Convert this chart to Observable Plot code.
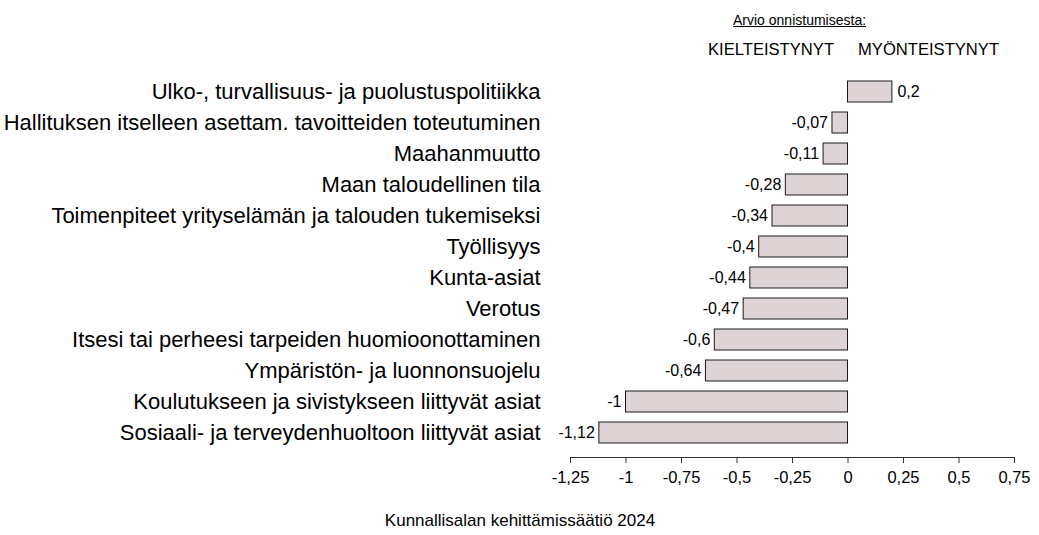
<!DOCTYPE html>
<html><head><meta charset="utf-8">
<script src="https://cdn.jsdelivr.net/npm/d3@7"></script>
<script src="https://cdn.jsdelivr.net/npm/@observablehq/plot@0.6"></script>
<style>
body{margin:0;background:#fff;font-family:"Liberation Sans",Arial,sans-serif;}
#wrap{position:relative;width:1039px;height:535px;}
.ann{position:absolute;color:#000;white-space:nowrap;line-height:1.15;}
</style></head>
<body><div id="wrap">
<div class="ann" style="left:733px;top:12px;text-decoration:underline;font-size:14px;">Arvio onnistumisesta:</div>
<div class="ann" style="left:708px;top:40px;font-size:16.6px;">KIELTEISTYNYT</div>
<div class="ann" style="left:858px;top:40px;font-size:16.6px;">MYÖNTEISTYNYT</div>
<div class="ann" style="left:0;width:1040px;top:511px;text-align:center;font-size:17px;">Kunnallisalan kehittämissäätiö 2024</div>
</div>
<script>
const categories = [
  "Ulko-, turvallisuus- ja puolustuspolitiikka",
  "Hallituksen itselleen asettam. tavoitteiden toteutuminen",
  "Maahanmuutto",
  "Maan taloudellinen tila",
  "Toimenpiteet yrityselämän ja talouden tukemiseksi",
  "Työllisyys",
  "Kunta-asiat",
  "Verotus",
  "Itsesi tai perheesi tarpeiden huomioonottaminen",
  "Ympäristön- ja luonnonsuojelu",
  "Koulutukseen ja sivistykseen liittyvät asiat",
  "Sosiaali- ja terveydenhuoltoon liittyvät asiat"
];
const values = [0.2, -0.07, -0.11, -0.28, -0.34, -0.4, -0.44, -0.47, -0.6, -0.64, -1, -1.12];
const xTicks = [-1.25, -1, -0.75, -0.5, -0.25, 0, 0.25, 0.5, 0.75];

const fmt = d => String(d).replace(".", ",");
const data = categories.map((c, i) => ({label: c, value: values[i]}));

const chart = Plot.plot({
  width: 1039,
  height: 535,
  marginTop: 67,
  marginBottom: 78,
  marginLeft: 570,
  marginRight: 25,
  style: {fontFamily: "Liberation Sans, Arial, sans-serif", color: "#000", background: "transparent"},
  x: {domain: [-1.25, 0.75]},
  y: {domain: categories, padding: 0.33},
  marks: [
    Plot.barX(data, {x: "value", y: "label", fill: "#DED4D6", stroke: "#1a1a1a", strokeWidth: 1}),
    Plot.text(data.filter(d => d.value < 0), {x: "value", y: "label", text: d => fmt(d.value), textAnchor: "end", dx: -4.5, fontSize: 16}),
    Plot.text(data.filter(d => d.value >= 0), {x: "value", y: "label", text: d => fmt(d.value), textAnchor: "start", dx: 5, fontSize: 16}),
    Plot.axisX({ticks: xTicks, tickFormat: fmt, tickSize: 6, tickPadding: 8, fontSize: 16.5, label: null, stroke: "#333"}),
    Plot.frame({anchor: "bottom", stroke: "#333"}),
    Plot.axisY({tickSize: 0, tickPadding: 30, fontSize: 22, label: null})
  ]
});
chart.style.position = "absolute";
chart.style.left = "0";
chart.style.top = "0";
document.getElementById("wrap").appendChild(chart);
</script>
</body></html>
